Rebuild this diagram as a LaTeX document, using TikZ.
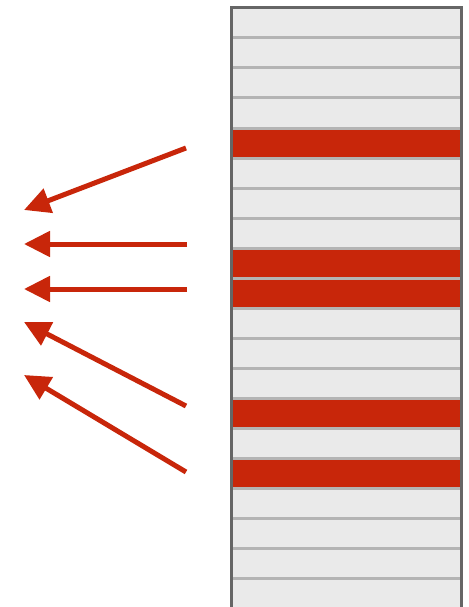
\documentclass[tikz,border=0pt]{standalone}
\usetikzlibrary{arrows.meta}

\definecolor{hitred}{HTML}{C8260A}
\definecolor{cellgray}{HTML}{EAEAEA}
\definecolor{linegray}{HTML}{B4B4B4}
\definecolor{framegray}{HTML}{666666}

\begin{document}
\begin{tikzpicture}[
    x = 1pt, y = -1pt,
    cell/.style = {
        draw = linegray, line width = 3pt, fill = cellgray,
        minimum width = 230pt, minimum height = 30pt,
        inner sep = 0pt, outer sep = 0pt, anchor = north west
    },
    hit/.style = {cell, fill = hitred},
    pointer/.style = {
        draw = hitred, line width = 5pt,
        -{Triangle[length = 26pt, width = 25pt]}
    }
]
\useasboundingbox (0,0) rectangle (468,607);

% the column of rows
\foreach \i in {0,...,19}
    \node[cell] (row\i) at (231, {8 + 30*\i}) {};
\foreach \i in {4,8,9,13,15}
    \node[hit] (hit\i) at (231, {8 + 30*\i}) {};
\draw[framegray, line width = 3pt] (row0.north west) rectangle (row19.south east);

% pointers
\foreach \n/\tx/\ty/\hx/\hy in {
    1/186/148/24/210,
    2/187/244/24/244,
    3/187/289/24/289,
    4/186/406/24/322,
    5/186/472/24/375}
{
    \coordinate (tail\n) at (\tx, \ty);
    \coordinate (tip\n) at (\hx, \hy);
    \draw[pointer] (tail\n) -- (tip\n);
}

\end{tikzpicture}
\end{document}
